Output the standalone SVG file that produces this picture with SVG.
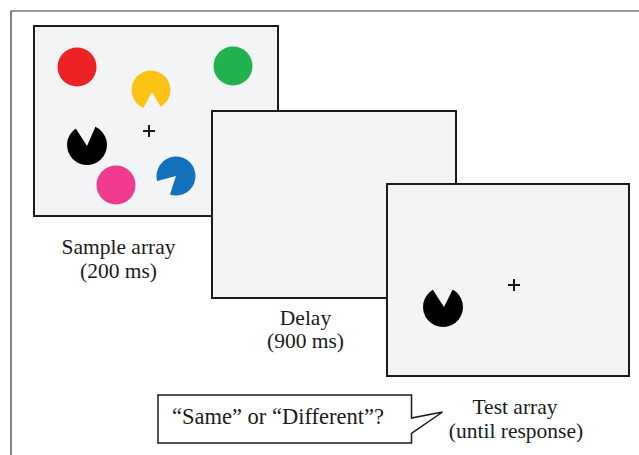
<svg xmlns="http://www.w3.org/2000/svg" width="639" height="455" viewBox="0 0 639 455">
<style>
.panel{fill:#f3f4f6;stroke:#1a1a1a;stroke-width:2}
.lbl{font-family:"Liberation Serif","Times New Roman",serif;font-size:21.5px;fill:#1a1a1a;text-anchor:middle}
.cross{stroke:#1a1a1a;stroke-width:2}
.frame{fill:none;stroke:#333;stroke-width:1.2}
</style>
<rect width="639" height="455" fill="#ffffff"/>
<path class="frame" d="M11 455 V11 H639"/>
<g id="sample">
<rect class="panel" x="34" y="26" width="244" height="190"/>
<circle cx="77" cy="67" r="19.5" fill="#ed2224"/>
<circle cx="233" cy="66" r="19.5" fill="#21b24f"/>
<path d="M152 92 L143.38 107.95 A19.5 19.5 0 1 1 160.75 106.89 Z" fill="#fcc314"/>
<path d="M87 146 L95.45 126.87 A20 20 0 1 1 75.82 128.42 Z" fill="#000000"/>
<circle cx="116" cy="185" r="19.5" fill="#ef3a8d"/>
<path d="M176 176 L157.16 181.05 A19.5 19.5 0 1 1 169.97 194.55 Z" fill="#1372bb"/>
<path class="cross" d="M143 131 H155 M149 125 V137"/>
<text class="lbl" x="118.5" y="254">Sample array</text>
<text class="lbl" x="118.5" y="278">(200 ms)</text>
</g>
<g id="delay">
<rect class="panel" x="212" y="111" width="244" height="187"/>
<text class="lbl" x="305.5" y="325">Delay</text>
<text class="lbl" x="305.5" y="348">(900 ms)</text>
</g>
<g id="test">
<rect class="panel" x="387" y="184" width="242" height="192"/>
<path d="M444 307 L452.70 289.51 A20 20 0 1 1 432.85 289.77 Z" fill="#000000"/>
<path class="cross" d="M508 285 H520 M514 279 V291"/>
<text class="lbl" x="515" y="414">Test array</text>
<text class="lbl" x="516" y="438">(until response)</text>
</g>
<g id="bubble">
<path d="M158 395 H411.5 V418 L442.5 412 L411.5 433.5 V443 H158 Z" fill="#ffffff" stroke="#1a1a1a" stroke-width="1.5" stroke-linejoin="miter"/>
<text class="lbl" x="278" y="424" style="font-size:22.5px">“Same” or “Different”?</text>
</g>
</svg>
